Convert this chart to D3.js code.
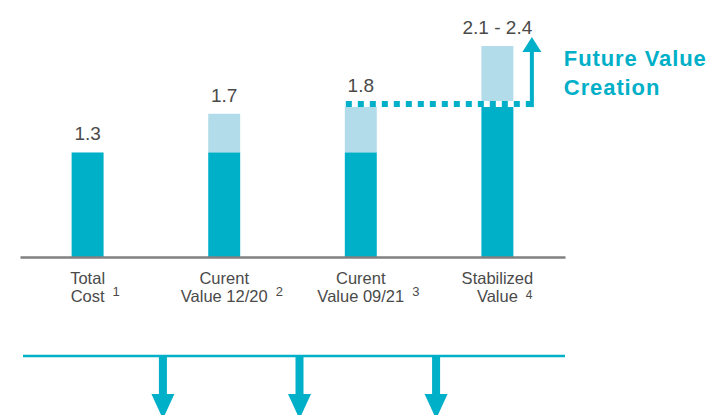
<!DOCTYPE html>
<html>
<head>
<meta charset="utf-8">
<script src="https://cdn.jsdelivr.net/npm/d3@7"></script>
<style>
  html, body { margin: 0; padding: 0; background: #fff; }
  svg { display: block; font-family: "Liberation Sans", Arial, sans-serif; }
</style>
</head>
<body>
<svg id="chart" width="712" height="415"></svg>
<script>
// Value build-up, in billions
const categories = ["total", "dec20", "sep21", "stabilized"];
const labelLines = [["Total", "Cost"], ["Curent", "Value 12/20"], ["Curent", "Value 09/21"], ["Stabilized", "Value"]];
const footnotes = ["1", "2", "3", "4"];
const baseValues = [1.3, 1.3, 1.3, 1.8];   // solid segment top
const topValues = [1.3, 1.7, 1.8, 2.4];    // light segment top
const valueLabels = ["1.3", "1.7", "1.8", "2.1 - 2.4"];
const currentValue = 1.8;                  // dotted reference level
const futureLines = ["Future Value", "Creation"];

const axisFloor = 0.22;

const dark = "#00afc8";
const light = "#b2dcea";
const textGray = "#4a4a4a";

const svg = d3.select("#chart");

const x = d3.scaleBand()
  .domain(categories)
  .range([20, 565])
  .paddingInner(0.766)
  .paddingOuter(0.378);

const y = d3.scaleLinear()
  .domain([axisFloor, 2.4])
  .range([257, 46]);

const bw = x.bandwidth();
const rows = categories.map((c, i) => ({
  id: c, lines: labelLines[i], note: footnotes[i],
  base: baseValues[i], top: topValues[i], label: valueLabels[i]
}));

// light (uplift) segments
svg.append("g").selectAll("rect")
  .data(rows.filter(d => d.top > d.base))
  .join("rect")
  .attr("x", d => x(d.id))
  .attr("width", bw)
  .attr("y", d => y(d.top))
  .attr("height", d => y(d.base) - y(d.top))
  .attr("fill", light);

// solid segments
svg.append("g").selectAll("rect")
  .data(rows)
  .join("rect")
  .attr("x", d => x(d.id))
  .attr("width", bw)
  .attr("y", d => y(d.base))
  .attr("height", d => y(axisFloor) - y(d.base))
  .attr("fill", dark);

// baseline
const axis = svg.append("g")
  .attr("transform", `translate(0,${y(axisFloor)})`)
  .call(d3.axisBottom(x).tickSize(0).tickSizeOuter(0).tickFormat(""));
axis.select(".domain").attr("stroke", "#808080").attr("stroke-width", 2.5);

// value labels
svg.append("g").selectAll("text")
  .data(rows)
  .join("text")
  .attr("x", d => x(d.id) + bw / 2)
  .attr("y", d => y(d.top) - 12)
  .attr("text-anchor", "middle")
  .attr("font-size", 19)
  .attr("fill", textGray)
  .text(d => d.label);

// category labels with footnote marks
const cat = svg.append("g").selectAll("g")
  .data(rows)
  .join("g")
  .attr("transform", d => `translate(${x(d.id) + bw / 2},0)`);

cat.each(function (d) {
  const g = d3.select(this);
  const widths = d.lines.map((line, j) => {
    const t = g.append("text")
      .attr("y", 284 + j * 18)
      .attr("text-anchor", "middle")
      .attr("font-size", 16.5)
      .attr("fill", textGray)
      .text(line);
    return t.node().getComputedTextLength();
  });
  const noteX = widths[1] / 2 + 8;
  // drop the mark a little when it sits under a wider first line
  const noteY = noteX < widths[0] / 2 ? 299 : 296;
  g.append("text")
    .attr("x", noteX)
    .attr("y", noteY)
    .attr("font-size", noteX < widths[0] / 2 ? 12 : 13)
    .attr("fill", textGray)
    .text(d.note);
});

// dotted reference line from the 09/21 value to the upward arrow
const arrowX = x("stabilized") + bw + 18.5;
const refY = y(currentValue);
const x0 = x("sep21");
svg.append("line")
  .attr("x1", x0).attr("x2", arrowX)
  .attr("y1", refY).attr("y2", refY)
  .attr("stroke", "#fff").attr("stroke-width", 6);
svg.append("line")
  .attr("x1", x0 + 1).attr("x2", arrowX)
  .attr("y1", refY).attr("y2", refY)
  .attr("stroke", dark).attr("stroke-width", 6)
  .attr("stroke-dasharray", "6,6");

// upward arrow
const tipY = y(2.4) - 9;
const headBase = tipY + 15;
svg.append("rect")
  .attr("x", arrowX - 2).attr("width", 4)
  .attr("y", headBase - 1).attr("height", refY + 3 - headBase + 1)
  .attr("fill", dark);
svg.append("path")
  .attr("d", d3.line()([[arrowX - 9.5, headBase], [arrowX + 9.5, headBase], [arrowX, tipY]]) + "Z")
  .attr("fill", dark);

svg.append("g").selectAll("text")
  .data(futureLines)
  .join("text")
  .attr("x", arrowX + 32)
  .attr("y", (d, i) => 66 + i * 28.5)
  .attr("font-size", 22)
  .attr("font-weight", "bold")
  .attr("letter-spacing", 0.9)
  .attr("fill", dark)
  .text(d => d);

// lower bracket with downward arrows between columns
const bracketY = 356;
svg.append("line")
  .attr("x1", 23).attr("x2", 565)
  .attr("y1", bracketY).attr("y2", bracketY)
  .attr("stroke", dark).attr("stroke-width", 2.5);

const gaps = d3.pairs(categories).map(([a, b]) => (x(a) + x(b)) / 2 + bw / 2 + 7);
const downArrows = svg.append("g").selectAll("g")
  .data(gaps)
  .join("g")
  .attr("transform", d => `translate(${d},0)`);
downArrows.append("rect")
  .attr("x", -4).attr("width", 8)
  .attr("y", bracketY).attr("height", 394 - bracketY + 1)
  .attr("fill", dark);
downArrows.append("path")
  .attr("d", d3.line()([[-11.5, 394], [11.5, 394], [0, 419]]) + "Z")
  .attr("fill", dark);
</script>
</body>
</html>
